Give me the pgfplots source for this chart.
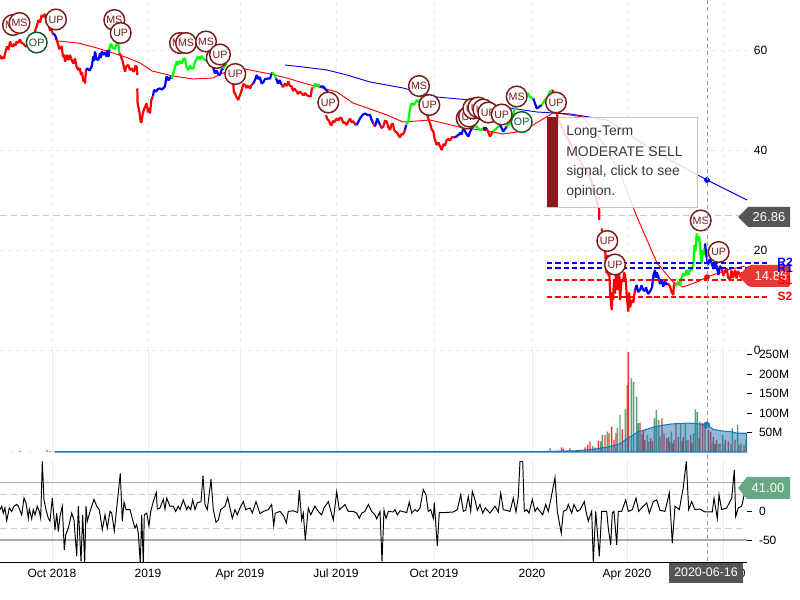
\documentclass[border=0pt]{standalone}
\usepackage{pgfplots}
\pgfplotsset{compat=1.18}
\usepackage{fontspec}
\setmainfont{Liberation Sans}
\definecolor{mkred}{HTML}{7A1A1A}
\definecolor{mkgreen}{HTML}{0F5A25}
\definecolor{barred}{HTML}{E5392F}
\definecolor{bargreen}{HTML}{5F9F7A}
\definecolor{areablue}{HTML}{1F77B4}
\definecolor{lblgray}{HTML}{555555}
\definecolor{lblred}{HTML}{E53935}
\definecolor{lblgreen}{HTML}{6AA884}
\definecolor{ttred}{HTML}{8B1A1A}
\pgfplotsset{
  base/.style={scale only axis,width=560.25pt,xmin=0,xmax=747,
    xtick={52,148,240,336,434,532,627,723},
    xmajorgrids,ymajorgrids,
    grid style={draw=black!7,line width=0.6pt},
    axis x line=bottom,axis y line=right,
    x axis line style={draw=none,-},y axis line style={draw=none,-},
    x tick style={draw=none},
    tick label style={font=\fontsize{9}{10}\selectfont},
    /pgf/number format/assume math mode=true},
  pr/.style={no markers,line width=1.65pt,line join=bevel},
  srl/.style={no markers,dashed,dash pattern=on 4pt off 2.2pt,line width=1pt},
  sigbase/.style={only marks,mark=text,text mark as node=true,text mark={#1}},
}
\newcommand\sigR[3]{\addplot[sigbase={#3},text mark style={circle,draw=mkred,fill=white,line width=1.1pt,minimum size=15.5pt,inner sep=0pt,text=mkred,font=\fontsize{8}{9}\selectfont}] coordinates {(#1,#2)};}
\newcommand\sigG[3]{\addplot[sigbase={#3},text mark style={circle,draw=mkgreen,fill=white,line width=1.1pt,minimum size=15.5pt,inner sep=0pt,text=mkgreen,font=\fontsize{8}{9}\selectfont}] coordinates {(#1,#2)};}
\begin{document}
\begin{tikzpicture}
\useasboundingbox (0,0) rectangle (600pt,450pt);
% ---------- price
\begin{axis}[base,at={(0pt,187.5pt)},anchor=south west,height=262.5pt,ymin=0,ymax=70,clip=false,
  ytick={0,20,40,60},xticklabels={},y tick style={draw=none},
  grid style={draw=black!7,dashed,line width=0.6pt},
  yticklabel style={xshift=-0.5pt}]
\addplot[no markers,dashed,dash pattern=on 5pt off 3pt,draw=black!22,line width=1pt] coordinates {(0,26.86)(740,26.86)};
% moving averages
\addplot[no markers,red,line width=0.7pt] coordinates {(58,61.8)(78,61.4)(97,60.4)(110,59.6)(128,58.4)(140,57.4)(152,55.8)(173,54.8)(193,54.2)(213,54.4)(223,55.4)(240,56.4)(270,55.2)(287,54.4)(303,53.4)(315,52.8)(337,51.6)(353,49.4)(370,48.2)(387,47)(403,45.6)(417,45.8)(430,46)(443,45.4)(463,44.4)(483,44)(503,43.2)(517,43.6)(533,45)(553,47.4)(557,47.4)(583,46.6)(603,41.4)(620,35.4)(637,26.6)(657,17.4)(673,13.6)(683,12.6)(697,13.6)(707,14.6)(727,16)(745,16.8)};
\addplot[no markers,blue,line width=0.7pt] coordinates {(285,57)(303,56.6)(327,56)(347,55)(370,53.6)(403,52.4)(437,50.6)(470,50)(503,48.6)(537,47.6)(570,47.2)(583,46.8)(607,46)(657,39.4)(707,34)(747,30)};
\addplot[only marks,mark=*,mark size=1.9pt,blue] coordinates {(707,34)};
\addplot[only marks,mark=*,mark size=1.9pt,red] coordinates {(707,14.6)};
% price
\addplot[pr,red] coordinates {(0,59)(1.5,58.2)(2.7,58.6)(4,58.3)(5,59.3)(6.3,60.2)(7.3,60.7)(8.7,60.1)(10,61.7)(11.3,60.9)(12.7,60.7)(14,61.2)(15.5,60.9)(16.7,61.7)(18,61.4)(20,62.1)(21.5,61.4)(23.3,61.3)(24.7,60.9)(26,60.7)(29,61)(31,61.2)(33.3,62.7)(35,63.8)(36.7,64.7)(38.5,66)(40,65.5)(41.7,67)(43,66.6)(45,67.2)(46.7,65.3)(48,65.9)(50,63.9)(51.3,64.2)(52.7,63.3)};
\addplot[pr,blue] coordinates {(52.7,63.3)(55,63)(56.7,62)};
\addplot[pr,red] coordinates {(56.7,62)(58.3,61)(59,60.2)(60,60.4)(61.7,60.7)(63,58.6)(64,59.1)(65,57.7)(66,58.2)(67,59)(68.5,58)(70,59)(71.5,58.1)(73.3,57.3)(75,58.3)(76.5,56.7)(78.3,56)(79.7,56.4)(81,55)(82,55.6)(83.3,53.7)(84.2,54.3)(85,53.3)(86,56)};
\addplot[pr,blue] coordinates {(86,56)(87.3,56.3)(89.5,55.9)(91.7,56.7)(93.3,58.7)(94,57.8)(95,59.7)(96.5,58.2)(98.3,58)(100,59.3)(100.7,58.4)(101.7,59.7)(103,59)(104.5,59.5)(106.7,58.7)(107.5,60)(108.5,58.6)(109.3,60)};
\addplot[pr,green] coordinates {(109.3,60)(110.5,61.2)(111.7,61)(113,60.3)(115,60.3)(116.5,61.2)(118.3,61.3)(119.3,59.3)};
\addplot[pr,red] coordinates {(119.3,59.3)(120.5,59)(121.7,58.3)(123,57.6)(124,56.4)(125,55.7)(126.5,56.8)(128.3,57)(130,56)(131.7,56.3)(133,55.8)(134,55.7)(135.3,56.8)(136.7,56.7)(137.3,55)};
\addplot[pr,red] coordinates {(137.3,52.3)(137.6,49.5)(138.3,48.7)(139.5,47.5)(140.7,45.5)(141.7,45.7)(142.5,47)(143.3,47.7)(145,48.6)(146.7,49.3)(148,47.5)(149,48.4)(150,47.3)(151.3,50)(152.7,50.7)};
\addplot[pr,blue] coordinates {(153,50.7)(154,52)(156,51.7)(158,52.2)(160,52.3)(162,52.1)(165,52.7)(166,54.2)(166.7,54.7)(168.5,53.9)(170,54.6)(171.7,54.3)};
\addplot[pr,green] coordinates {(171.7,54.3)(173.3,55.3)(175,56.6)(176.7,57.7)(178,57)(179.5,57.8)(181.7,57.3)(183.3,58.2)(185,58.3)(186.5,56.6)(188.3,56)(190,56.9)(191.5,56.3)(193.3,56.3)(195,57.6)(196.5,58.1)(198.3,58.7)(200,58.1)(201.5,58.8)(203.3,58.3)(205,58)(206.5,57.9)(208.3,57.7)};
\addplot[pr,blue] coordinates {(208.3,57.7)(210,57.4)(211.7,57)(213,56.6)(215,55.3)(216.5,55.9)(218,55.2)(220,55)(221.5,56)(223.3,56.3)};
\addplot[pr,green] coordinates {(223.3,56.3)(226.7,57.3)};
\addplot[pr,red] coordinates {(233.3,53.3)(233.8,51.7)(235,51.3)(236.5,50.6)(238.3,50)(240,51)(241.7,52)(243.3,53.2)(245,53)(246.5,52.4)(248,52.9)(250,52.3)(251.5,53)(253.3,53.3)};
\addplot[pr,blue] coordinates {(253.3,53.3)(255,54)(256.7,55)(258,54.2)(259.7,54.6)(261.7,53.3)(263.5,53.6)(265,54.2)(268.3,54.3)(270,54.3)(272,55.5)};
\addplot[pr,green] coordinates {(272,55.5)(275,55)(276,54.3)};
\addplot[pr,blue] coordinates {(276,54.3)(278,53.3)(279.5,54)(281.7,53)};
\addplot[pr,red] coordinates {(281.7,53)(283,52.6)(285,53.3)(286.7,52.8)(288.3,53.7)(290,52.8)(291.7,52.7)(293,51.8)(294.5,52.3)(296.7,51.7)(298,51.2)(300,51.7)(301.7,51.3)(303.5,50.9)(305,51.4)(306.7,51)(308.5,50.8)(310.7,50.7)(312,52.4)(313.3,52.3)};
\addplot[pr,green] coordinates {(313.3,52.3)(315,53.3)(316.5,52.8)(318,53.1)(320,52.7)};
\addplot[pr,blue] coordinates {(320,52.7)(323.3,52.7)(326,52)(328,51.7)};
\addplot[pr,red] coordinates {(326,47)(327.5,46.1)(329,45.9)(330.3,45.1)(331.7,45)(333,45.8)(334.5,45.6)(336.7,46.3)(338.3,45.9)(340,46.5)(341.7,46.3)(343.3,45.4)(345,45.5)(346.7,45)(348.3,45.7)(350,46.3)(351.7,45.5)(353,45.8)(355,45.2)(356.7,45)};
\addplot[pr,blue] coordinates {(356.7,45)(360,46.3)(362.5,47)(365,47.3)(367.5,47)(370,47)(371.7,46)(373.3,45.3)};
\addplot[pr,red] coordinates {(373.3,45.3)(375,44.7)};
\addplot[pr,blue] coordinates {(375,44.7)(377.3,46.3)(380,45)};
\addplot[pr,red] coordinates {(380,45)(381.5,44.4)(383.3,44.7)(385,45.9)(386.7,45.7)(388.3,44.6)(390,44)(391.3,45)(392.7,45.3)(394,44.2)(395,43.7)(397,43.5)(398.5,42.9)(400,42.5)(401.5,43.2)(403,43.1)(405,44)};
\addplot[pr,blue] coordinates {(405,44)(406,45)};
\addplot[pr,green] coordinates {(406,45)(408.3,45.7)(409.5,47.5)(410.7,48.9)(411.7,49.3)(414,49)(416.7,50)(419,49.5)(422,50.7)(426.7,47.3)};
\addplot[pr,red] coordinates {(426.7,47.3)(429.3,45.7)(430.7,44.9)(431.5,44.2)(433.3,43.7)(434.7,42.2)(436.7,41)(438.5,41.5)(440,40.7)(441.7,40)(443.5,41.2)(445,40.9)(446.7,42)(448.5,42.2)(450,41.9)(452,42.6)(455,42.5)};
\addplot[pr,blue] coordinates {(455,42.5)(458.3,43)(460,43.4)(461.5,43.1)(463.3,44.3)(465,43.8)(466.5,43.2)(468.3,42.7)(470,43.6)(471.5,44.3)(473.3,44.7)};
\addplot[pr,green] coordinates {(473.3,44.7)(476.7,44.7)(480,44)(483.3,44.3)};
\addplot[pr,blue] coordinates {(483.3,44.3)(486.7,44.3)};
\addplot[pr,red] coordinates {(486.7,44.3)(490,42.7)(492.7,43.7)};
\addplot[pr,green] coordinates {(492.7,43.7)(495,44)(500,45)};
\addplot[pr,blue] coordinates {(500,45)(503.3,43.7)(506.7,44.7)};
\addplot[pr,green] coordinates {(506.7,44.7)(511.7,45.7)(515,48.7)(517,50)(528,51.3)(530,50.6)(533.3,50.3)};
\addplot[pr,blue] coordinates {(533.3,50.3)(536.7,48.3)(539,48.6)(541.7,49)};
\addplot[pr,green] coordinates {(541.7,49)(545,50)(547.5,50.4)(550,51.7)(553,52)};
\addplot[pr,red] coordinates {(553,52)(558,46)(561,45.2)(565,43)(569,41.9)(573,40)(577,38.9)(582,37)(586,36)(590,34.7)(595,31)(599.3,28)(599.3,26)};
\addplot[pr,red] coordinates {(601.7,24.3)(603,22)(604,22.7)(605,20.7)(606,16.5)(606.7,15.3)(607.7,19)(608.5,14.8)(609,17)(610.3,11)(611.7,8)(612.5,11.5)(613,10)(614,14)(615,11.3)(616,15.5)(617,16)(617.8,12)(618.3,14)(619.2,16)(620,10)(621.5,14)(623.3,13.7)(624,15.5)(625,15)(626,13.2)(626.7,11)(627.7,8.8)(628.3,7.7)(629.2,11.5)(630,8.5)(631.7,10)(633.3,9.5)(635,12)};
\addplot[pr,blue] coordinates {(635,12)(636.7,13)(638,11.6)(640,12)(641.5,12.9)(643.3,12)(644.7,11.8)(646,12.5)(648,11.2)(650,11.7)(652,12.5)(653.5,15)(655,16)(656,14.4)(656.7,15.5)(658.3,14.7)(660,13.2)(661.5,14.1)(663.3,12.7)(665,13.7)(666.5,13.1)(668.3,13.3)};
\addplot[pr,red] coordinates {(668.3,13.3)(670,12.7)(671.5,11.6)(673.3,11)(674,13.3)(675,12.7)};
\addplot[pr,green] coordinates {(675,12.7)(676.5,13.1)(678.3,13.7)(680,12.9)(681.5,14.4)(683.3,15.3)(685,14.8)(686.7,16)(688.3,15)(690,16.2)(691.5,15.9)(693.3,17)(694.5,21)(695.5,19.7)(696.7,23.3)(698,21.8)(699.3,22.7)(700.5,19.2)(701.7,17.3)(702.8,20)(704,19)(705,21.3)};
\addplot[pr,blue] coordinates {(705,21.3)(706.5,18.8)(708,17)(710,18.2)(711.7,17.3)(713.5,16.2)(715,17.5)(716.7,16.7)(718.5,15)(720,16.8)(721.7,16.3)};
\addplot[pr,red] coordinates {(721.7,16.3)(723.3,14.9)(725,15.7)(726.7,16.3)(728,14.6)(730,14)(731.5,15.9)(733,14.4)(735,16)(736.5,14.3)(738,15.8)(740,15)(742,15.4)(745,14.86)};
% support and resistance
\addplot[srl,blue] coordinates {(547,17.4)(770,17.4)};
\addplot[srl,blue] coordinates {(547,16.4)(770,16.4)};
\addplot[srl,red] coordinates {(547,14)(770,14)};
\addplot[srl,red] coordinates {(547,10.6)(770,10.6)};
% signals
\sigR{13}{65}{MS}
\sigR{19.5}{65.4}{MS}
\sigG{36.7}{61.5}{OP}
\sigR{56}{66.1}{UP}
\sigR{114.3}{66}{MS}
\sigR{120.7}{63.4}{UP}
\sigR{180}{61.4}{MS}
\sigR{186}{61.4}{MS}
\sigR{206}{61.7}{MS}
\sigR{216.7}{58.4}{UP}
\sigR{220}{59.1}{UP}
\sigR{235.3}{55.2}{UP}
\sigR{328.3}{49.5}{UP}
\sigR{419}{52.8}{MS}
\sigR{429.3}{49}{UP}
\sigR{466.7}{46.3}{UP}
\sigR{469}{46.7}{UP}
\sigR{473.3}{48.3}{UP}
\sigR{478.3}{48.5}{UP}
\sigR{483.3}{48.1}{UP}
\sigR{488.3}{47.5}{UP}
\sigR{501.7}{47.1}{UP}
\sigR{516.7}{50.7}{MS}
\sigG{521.7}{45.6}{OP}
\sigR{556}{49.5}{UP}
\sigR{607.3}{21.8}{UP}
\sigR{615}{17.1}{UP}
\sigR{700.7}{25.9}{MS}
\sigR{718.7}{19.6}{UP}
\end{axis}
% ---------- volume
\begin{axis}[base,at={(0pt,111pt)},anchor=south west,height=76.5pt,ymin=0,ymax=261.5,clip=false,
  ytick={50,100,150,200,250},yticklabels={50M,100M,150M,200M,250M},xticklabels={},ymajorgrids=false,
  y tick style={draw=black,line width=0.6pt},tick align=outside,major tick length=4pt,
  yticklabel style={xshift=1.5pt}]
\addplot[ybar,bar shift=0pt,bar width=1.1pt,fill=barred,draw=none] coordinates {(12,1)(20,2)(47,5)(50,3)(95,2)(130,2)(158,2)(233,3)(260,1)(320,3)(345,1)(420,3)(470,2)(505,2)(550,9)(561.7,12)(563.5,8)(570,9)(578,3)(581,4)(585,12)(587.7,18)(590,27)(595,12)(598.3,29)(605,44)(609,48)(611.7,65)(614,31)(616,48)(622.3,58)(627.3,172)(628.3,256)(640,75)(642,45)(643.3,56)(645,30)(650.7,35)(652.5,28)(660,40)(662,86)(664,48)(666.7,35)(668.7,39)(670,25)(672.5,22)(674,31)(676,74)(678.3,39)(682,28)(683.3,39)(688,31)(690.7,44)(692,22)(699,35)(700,78)(702.7,74)(705,74)(708.3,56)(710.7,52)(713.3,39)(715,20)(716.7,31)(720,22)(725.3,31)(728.3,27)(731,20)(735,32)(739,18)(741,22)(744,18)(746,31)};
\addplot[ybar,bar shift=0pt,bar width=1.1pt,fill=bargreen,draw=none] coordinates {(30,1)(75,2)(180,1)(290,2)(375,2)(450,1)(530,2)(592.7,15)(600.7,27)(602.3,44)(607.3,52)(617.3,61)(620,95)(625.3,109)(631.3,189)(633.7,180)(636.7,142)(638.3,74)(647.3,44)(649,25)(654.3,86)(656.3,108)(658.7,82)(671.3,52)(680.7,72)(685.3,74)(686.7,30)(693.3,48)(695.3,109)(697.3,103)(712,25)(718.5,20)(722.7,44)(723.7,20)(732.3,61)(737.7,69)};
\addplot[no markers,fill=areablue,fill opacity=0.5,draw=areablue,line width=0.8pt] coordinates {(55,1)(540,1)(575,3)(593.3,7)(606.7,12)(620,21)(627.3,35)(633.3,44)(638.3,52)(646.7,58)(655,65)(661.7,68)(671.7,72)(686.7,74)(696.7,73)(706.7,69)(713.3,58)(721.7,54)(731.7,52)(736.7,48)(746.7,48)} \closedcycle;
\addplot[only marks,mark=*,mark size=2.4pt,areablue] coordinates {(706.7,69)};
\end{axis}
% ---------- cci
\begin{axis}[base,at={(0pt,28.5pt)},anchor=south west,height=75.7pt,ymin=-88,ymax=87.5,
  ytick={-50,0},yticklabels={-50,0},
  xticklabels={Oct 2018,2019,Apr 2019,Jul 2019,Oct 2019,2020,Apr 2020,Jul 2020},
  x axis line style={draw=black,line width=0.7pt,-},
  ymajorgrids=false,
  y tick style={draw=black,line width=0.6pt},tick align=outside,major tick length=4pt,
  xticklabel style={yshift=2.5pt},yticklabel style={xshift=1.5pt}]
\addplot[no markers,draw=black!33,line width=1.1pt] coordinates {(0,50)(747,50)};
\addplot[no markers,draw=black!33,line width=1.1pt] coordinates {(0,-50)(747,-50)};
\addplot[no markers,dashed,dash pattern=on 5pt off 3pt,draw=black!20,line width=0.8pt] coordinates {(0,30)(747,30)};
\addplot[no markers,dashed,dash pattern=on 5pt off 3pt,draw=black!20,line width=0.8pt] coordinates {(0,-30)(747,-30)};
\addplot[no markers,black,line width=0.72pt] coordinates {(0,3)(1.7,9)(3.3,-3)(5,6)(6.7,-16)(9.3,6)(11.7,0)(14,9)(16.7,12)(18.3,9)(21.7,-6)(24,23)(26,15)(28.3,-12)(29.3,4)(31.7,-13)(33.3,3)(35,-6)(37.3,9)(39.3,0)(40.7,-12)(42.3,87)(44,20)(46,3)(48.3,-12)(50,-17)(52.3,23)(55,-32)(56.7,-3)(58.3,-35)(60,-9)(62.3,9)(64.3,-67)(65.7,-41)(68.3,-29)(71.7,-3)(74,-15)(76.7,-78)(78.3,9)(81,-87)(82.7,-6)(84.7,-90)(86,9)(87.3,-17)(90,0)(94,21)(96.7,9)(99.3,3)(102.3,-32)(105,-6)(107.3,-29)(110,0)(111.7,-3)(114.3,-34)(116.7,6)(120.3,66)(122.3,-17)(124,16)(126,3)(130,3)(132.7,-15)(135,-29)(136.7,-23)(138.3,-38)(140.3,-90)(141.7,-6)(143.3,-90)(144.3,-6)(146.7,-3)(149,-25)(150.7,0)(153.3,17)(156.3,33)(157.3,4)(160,6)(163.3,21)(165,4)(166.7,23)(170,9)(173.3,9)(175.7,0)(178.3,9)(180,3)(183.3,20)(186.7,3)(188.3,9)(190.7,3)(192.7,20)(195,3)(197.3,15)(201,17)(203,62)(205,12)(207.3,3)(211,56)(213.3,3)(216,-19)(218.3,-15)(220.7,3)(225,9)(227.7,24)(230,6)(232.3,-12)(235,3)(237.3,-6)(240,6)(243.3,17)(245.7,3)(250,6)(252.3,-3)(256,17)(260,-4)(263.3,0)(268.3,3)(271.7,12)(273.7,-25)(275.3,-3)(280,0)(284,-9)(286.3,-20)(288.3,0)(293.3,1)(297.7,-2)(299.3,37)(301.7,-15)(303.3,-3)(305.3,-50)(308.3,6)(310.7,-6)(315,9)(318.3,0)(321.7,-6)(324,6)(328.3,17)(333.3,-15)(336.7,34)(339.3,3)(343.3,9)(345,12)(348.3,0)(353.3,0)(356.7,-3)(359.3,-12)(361.7,-3)(365,0)(368.3,12)(371.7,0)(375,-6)(376.7,-13)(380,0)(382,-87)(384,2)(386,-12)(388.3,0)(393.3,-1)(395,3)(397.3,-6)(400,1)(406.7,-2)(409.3,16)(411.7,-3)(415,3)(417.3,0)(420,6)(423.3,38)(426,29)(428.3,0)(430.7,3)(433.3,-12)(434.3,15)(437.3,-60)(439.3,-2)(445,-2)(453.3,-1)(457.3,3)(460.7,29)(463.3,0)(465.7,2)(468.3,26)(470.7,0)(472.3,35)(475,20)(477.3,2)(480,12)(482.7,-3)(485.3,6)(490,-3)(495,9)(498.3,-1)(500.7,32)(503.3,3)(510,0)(513.3,23)(516,-1)(518.3,26)(520,87)(522.7,87)(524.3,0)(526.7,3)(529,-3)(532.3,21)(535,0)(537.3,6)(540,0)(542.7,-6)(545.7,12)(548.3,0)(550.7,20)(555,59)(557.3,0)(561.3,-38)(563.3,0)(566.7,3)(568.3,12)(571.7,-3)(574,12)(577.3,0)(580,3)(584.3,17)(586,0)(588.3,-17)(591.7,0)(593.3,-88)(595.7,0)(599.3,-78)(601.7,0)(606.7,0)(608.3,-29)(610.7,-58)(612.3,-3)(614,0)(616.7,-58)(618.3,0)(621.7,0)(625.7,20)(628.3,0)(632.3,3)(636,23)(638.7,0)(643.3,9)(646.7,15)(649.3,-3)(653.3,17)(656.7,20)(660,2)(665,0)(669.3,32)(672.3,-55)(675,9)(679.3,3)(683.3,42)(686.3,87)(688.7,3)(691.7,17)(695,3)(700,4)(705,-1)(712.3,-1)(714,23)(717.3,-12)(719,29)(721.7,3)(726.7,6)(731.7,23)(734.3,72)(735.7,-9)(738.3,6)(741.7,9)(745.7,41)};
\end{axis}
% ---------- annotations, in pixels of the 800x600 frame
\begin{scope}[x=0.75pt,y=-0.75pt,yshift=450pt]
\draw[dashed,dash pattern=on 3pt off 2.5pt,draw=black!40,line width=0.7pt] (707,0)--(707,562);
% tooltip
\fill[white,opacity=0.85] (547,117) rectangle (697,207);
\draw[black!22,line width=0.6pt] (547,117) rectangle (697,207);
\fill[ttred] (547,117) rectangle (558,207);
\foreach \t/\yy in {Long-Term/132,MODERATE SELL/152,{signal, click to see}/172,opinion./192}
  \node[anchor=west,inner sep=0pt,text=black!78,font=\fontsize{10.5}{12}\selectfont] at (566,\yy) {\t};
% price tags
\fill[lblgray] (738,217)--(748,207)--(790,207)--(790,227)--(748,227)--cycle;
\node[text=white,font=\fontsize{9.75}{11}\selectfont,inner sep=0pt] at (769,217) {26.86};
\fill[lblred,rounded corners=1.5pt] (738,276)--(749,265)--(790,265)--(790,287)--(749,287)--cycle;
\node[text=white,font=\fontsize{9.75}{11}\selectfont,inner sep=0pt] at (771,276) {14.86};
\foreach \t/\yy/\c in {R2/262/blue,R1/268.5/blue,S1/280/red,S2/296/red}
  \node[text=\c,font=\bfseries\fontsize{9}{10}\selectfont,inner sep=0pt] at (785,\yy) {\t};
\fill[lblgreen] (738,488)--(747,477)--(790,477)--(790,499)--(747,499)--cycle;
\node[text=white,font=\fontsize{9.75}{11}\selectfont,inner sep=0pt] at (768,488) {41.00};
\fill[lblgray] (669,563) rectangle (743,583);
\node[text=white,font=\fontsize{9.3}{11}\selectfont,inner sep=0pt] at (706,572) {2020-06-16};
\end{scope}
\end{tikzpicture}
\end{document}
